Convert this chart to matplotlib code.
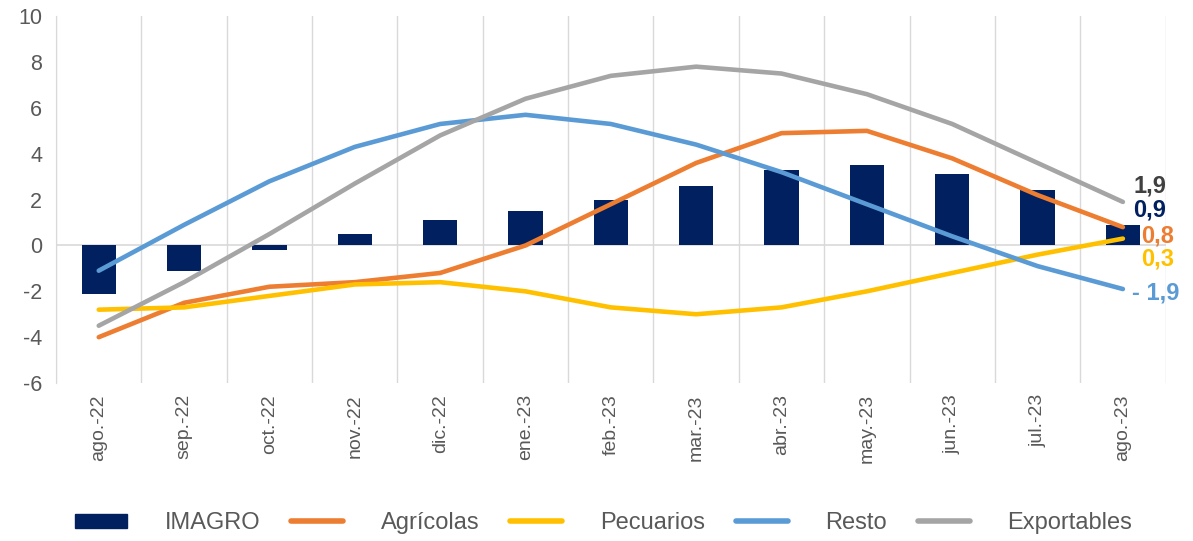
import numpy as np
import matplotlib.pyplot as plt
from matplotlib.patches import Patch
from matplotlib.lines import Line2D

plt.rcParams['font.family'] = ['Liberation Sans', 'DejaVu Sans']
plt.rcParams['axes.unicode_minus'] = False

meses = ['ago.-22', 'sep.-22', 'oct.-22', 'nov.-22', 'dic.-22', 'ene.-23', 'feb.-23',
         'mar.-23', 'abr.-23', 'may.-23', 'jun.-23', 'jul.-23', 'ago.-23']
imagro = [-2.1, -1.1, -0.2, 0.5, 1.1, 1.5, 2.0, 2.6, 3.3, 3.5, 3.1, 2.4, 0.9]
agricolas = [-4.0, -2.5, -1.8, -1.6, -1.2, 0.0, 1.8, 3.6, 4.9, 5.0, 3.8, 2.2, 0.8]
pecuarios = [-2.8, -2.7, -2.2, -1.7, -1.6, -2.0, -2.7, -3.0, -2.7, -2.0, -1.2, -0.4, 0.3]
resto = [-1.1, 0.9, 2.8, 4.3, 5.3, 5.7, 5.3, 4.4, 3.2, 1.8, 0.4, -0.9, -1.9]
exportables = [-3.5, -1.6, 0.5, 2.7, 4.8, 6.4, 7.4, 7.8, 7.5, 6.6, 5.3, 3.6, 1.9]

c_imagro = '#002060'
c_agr = '#ED7D31'
c_pec = '#FFC000'
c_resto = '#5B9BD5'
c_exp = '#A5A5A5'
grid_c = '#D9D9D9'
txt_c = '#595959'

fig = plt.figure(figsize=(11.93, 5.41), dpi=100)
ax = fig.add_axes([0.047, 0.292, 0.930, 0.678])

x = np.arange(len(meses))
ax.bar(x, imagro, width=0.4, color=c_imagro, zorder=2)
ax.plot(x, agricolas, color=c_agr, lw=3.3, solid_capstyle='round', zorder=3)
ax.plot(x, pecuarios, color=c_pec, lw=3.3, solid_capstyle='round', zorder=3)
ax.plot(x, resto, color=c_resto, lw=3.3, solid_capstyle='round', zorder=3)
ax.plot(x, exportables, color=c_exp, lw=3.3, solid_capstyle='round', zorder=3)

ax.set_xlim(-0.5, len(meses) - 0.5)
ax.set_ylim(-6, 10)
ax.set_yticks(range(-6, 11, 2))
ax.set_xticks(x)
ax.set_xticklabels(meses, rotation=90)
ax.set_xticks(np.arange(-0.5, len(meses), 1), minor=True)
ax.grid(True, which='minor', axis='x', color=grid_c, lw=1, zorder=0)
ax.axhline(0, color=grid_c, lw=1.2, zorder=1)

for s in ['top', 'right', 'bottom']:
    ax.spines[s].set_visible(False)
ax.spines['left'].set_color(grid_c)
ax.tick_params(axis='both', which='both', length=0, labelcolor=txt_c)
ax.tick_params(axis='y', labelsize=15.5, pad=10)
ax.tick_params(axis='x', labelsize=14, pad=8)

# etiquetas del último mes
last = len(meses) - 1
lbl_kw = dict(fontsize=17, fontweight='bold', va='center', ha='left')
ax.text(last + 0.12, exportables[-1] + 0.7, '1,9', color='#404040', **lbl_kw)
ax.text(last + 0.12, imagro[-1] + 0.65, '0,9', color=c_imagro, **lbl_kw)
ax.text(last + 0.21, agricolas[-1] - 0.4, '0,8', color=c_agr, **lbl_kw)
ax.text(last + 0.21, pecuarios[-1] - 0.9, '0,3', color=c_pec, **lbl_kw)
ax.text(last + 0.11, resto[-1] - 0.17, '- 1,9', color=c_resto, **lbl_kw)

handles = [Patch(color=c_imagro),
           Line2D([], [], color=c_agr, lw=4, solid_capstyle='round'),
           Line2D([], [], color=c_pec, lw=4, solid_capstyle='round'),
           Line2D([], [], color=c_resto, lw=4, solid_capstyle='round'),
           Line2D([], [], color=c_exp, lw=4, solid_capstyle='round')]
names = ['IMAGRO', 'Agrícolas', 'Pecuarios', 'Resto', 'Exportables']
leg = fig.legend(handles, names, loc='center', bbox_to_anchor=(0.506, 0.033), ncol=5,
                 frameon=False, fontsize=17, handlelength=2.2, handleheight=0.55,
                 handletextpad=1.6, columnspacing=1.3)
for t in leg.get_texts():
    t.set_color(txt_c)

fig.savefig('out.png', dpi=100)
